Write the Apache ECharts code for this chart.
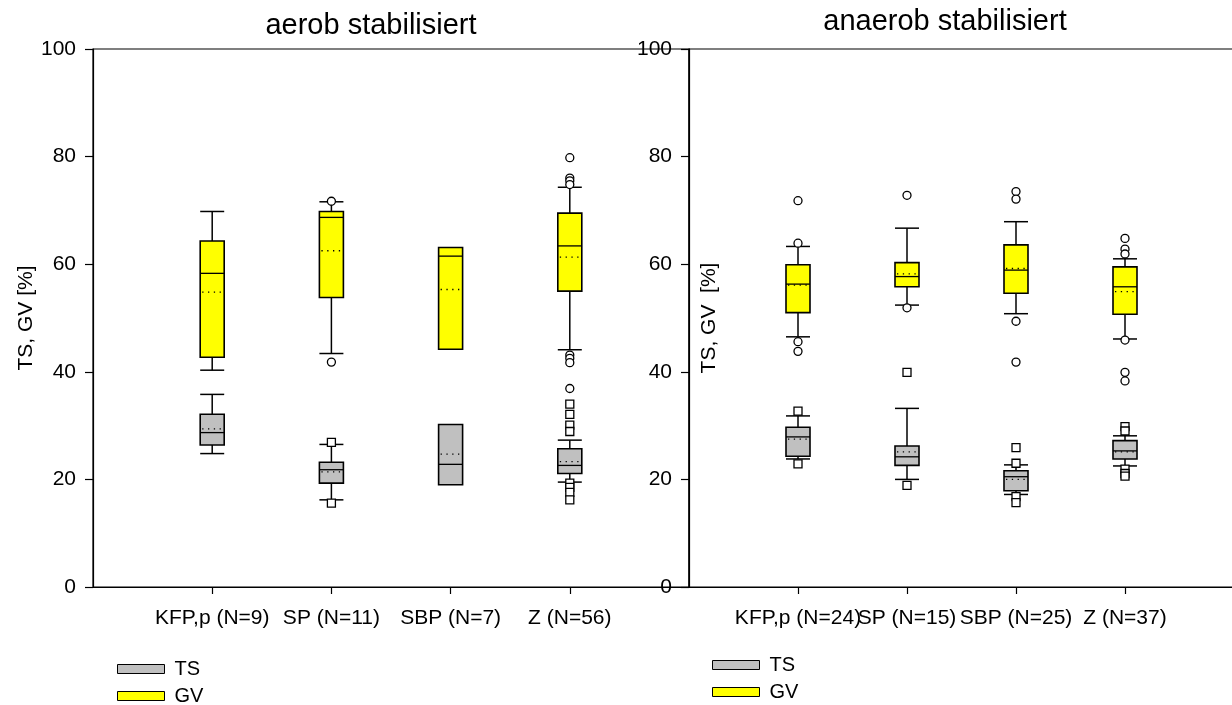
<!DOCTYPE html>
<html>
<head>
<meta charset="utf-8">
<script src="https://cdn.jsdelivr.net/npm/echarts@6/dist/echarts.min.js"></script>
<style>
  html, body { margin: 0; padding: 0; background: #fff; }
  #main { width: 1232px; height: 705px; }
</style>
</head>
<body>
<div id="main"></div>
<script>
// aerob stabilisiert
const aerobCats = ['KFP,p (N=9)', 'SP (N=11)', 'SBP (N=7)', 'Z (N=56)']
// [whisker low, q1, median, q3, whisker high]; null = no whisker
const aerobTsBox = [
  [24.8, 26.4, 28.7, 32.1, 35.8],
  [16.2, 19.3, 21.8, 23.2, 26.5],
  [null, 19.0, 22.8, 30.2, null],
  [19.5, 21.1, 22.6, 25.7, 27.3]
]
const aerobTsMean = [29.4, 21.4, 24.7, 23.3]
const aerobTsOut = [
  [2, 26.9], [2, 15.6],
  [4, 34.0], [4, 32.1], [4, 30.1], [4, 28.9], [4, 19.3], [4, 18.5], [4, 17.6], [4, 16.2]
]
const aerobGvBox = [
  [40.3, 42.7, 58.3, 64.3, 69.8],
  [43.4, 53.8, 68.7, 69.8, 71.6],
  [null, 44.2, 61.5, 63.1, null],
  [44.1, 55.0, 63.4, 69.5, 74.3]
]
const aerobGvMean = [54.8, 62.5, 55.3, 61.3]
const aerobGvOut = [
  [2, 71.7], [2, 41.8],
  [4, 79.8], [4, 76.0], [4, 75.5], [4, 74.8], [4, 43.1], [4, 42.5], [4, 41.7], [4, 36.9]
]

// anaerob stabilisiert
const anaerobCats = ['KFP,p (N=24)', 'SP (N=15)', 'SBP (N=25)', 'Z (N=37)']
const anaerobTsBox = [
  [23.8, 24.3, 27.9, 29.7, 31.8],
  [20.0, 22.6, 24.2, 26.2, 33.2],
  [17.2, 17.9, 20.5, 21.6, 22.7],
  [22.5, 23.8, 25.3, 27.2, 28.1]
]
const anaerobTsMean = [27.5, 25.1, 20.0, 25.1]
const anaerobTsOut = [
  [1, 32.7], [1, 22.9],
  [2, 39.9], [2, 18.9],
  [3, 25.9], [3, 23.0], [3, 16.8], [3, 15.7],
  [4, 29.8], [4, 29.0], [4, 21.9], [4, 21.1], [4, 20.6]
]
const anaerobGvBox = [
  [46.5, 51.0, 56.3, 59.9, 63.3],
  [52.4, 55.8, 57.7, 60.3, 66.7],
  [50.8, 54.6, 58.9, 63.6, 67.9],
  [46.1, 50.7, 55.8, 59.5, 61.0]
]
const anaerobGvMean = [56.1, 58.2, 59.2, 54.9]
const anaerobGvOut = [
  [1, 71.8], [1, 63.9], [1, 45.6], [1, 43.8],
  [2, 72.8], [2, 51.9],
  [3, 73.5], [3, 72.1], [3, 49.4], [3, 41.8],
  [4, 64.8], [4, 62.8], [4, 61.9], [4, 45.9], [4, 39.9], [4, 38.3]
]

const yTicks = [0, 20, 40, 60, 80, 100]

const FONT = 'Liberation Sans, Arial, sans-serif'
const TS_COLOR = '#c0c0c0'
const GV_COLOR = '#ffff00'
const HALF = 12

function boxRenderer(boxes, means, color) {
  return function (params, api) {
    const i = params.dataIndex
    const x = i + 1
    const [lo, q1, med, q3, hi] = boxes[i]
    const cx = api.coord([x, q1])[0]
    const y = (v) => api.coord([x, v])[1]
    const line = (x1, y1, x2, y2, extra) => ({
      type: 'line',
      shape: { x1, y1, x2, y2 },
      style: Object.assign({ stroke: '#000', lineWidth: 1.5 }, extra || {})
    })
    const children = []
    if (hi != null) {
      children.push(line(cx, y(q3), cx, y(hi)))
      children.push(line(cx - HALF, y(hi), cx + HALF, y(hi)))
    }
    if (lo != null) {
      children.push(line(cx, y(q1), cx, y(lo)))
      children.push(line(cx - HALF, y(lo), cx + HALF, y(lo)))
    }
    children.push({
      type: 'rect',
      shape: { x: cx - HALF, y: y(q3), width: HALF * 2, height: y(q1) - y(q3) },
      style: { fill: color, stroke: '#000', lineWidth: 1.6 }
    })
    children.push(line(cx - HALF, y(med), cx + HALF, y(med), { lineWidth: 1.3 }))
    children.push(line(cx - HALF + 2, y(means[i]), cx + HALF - 2, y(means[i]), { lineWidth: 1.3, lineDash: [1.3, 4.5] }))
    return { type: 'group', children }
  }
}

function boxSeries(name, idx, cats, boxes, means, color) {
  return {
    name,
    type: 'custom',
    xAxisIndex: idx,
    yAxisIndex: idx,
    color,
    itemStyle: { color },
    renderItem: boxRenderer(boxes, means, color),
    data: cats.map((c, i) => [i + 1, boxes[i][2]]),
    z: 2
  }
}

function outSeries(name, idx, data, symbol) {
  return {
    name,
    type: 'scatter',
    xAxisIndex: idx,
    yAxisIndex: idx,
    symbol,
    symbolSize: 8,
    itemStyle: { color: '#fff', borderColor: '#000', borderWidth: 1.3, opacity: 1 },
    data,
    z: 3
  }
}

function xAxis(idx, cats) {
  const full = [''].concat(cats, [''])
  return {
    type: 'category',
    gridIndex: idx,
    data: full,
    boundaryGap: false,
    axisLine: { show: true, lineStyle: { color: '#000', width: 1.2 } },
    axisTick: {
      show: true,
      length: 7,
      interval: (i) => i >= 1 && i <= cats.length,
      lineStyle: { color: '#000', width: 1.2 }
    },
    axisLabel: { interval: 0, hideOverlap: false, margin: 21, fontSize: 21, color: '#000', fontFamily: FONT },
    splitLine: { show: false }
  }
}

function yAxis(idx, name, gap) {
  return {
    type: 'value',
    gridIndex: idx,
    min: yTicks[0],
    max: yTicks[yTicks.length - 1],
    interval: yTicks[1] - yTicks[0],
    name,
    nameLocation: 'middle',
    nameGap: gap,
    nameTextStyle: { fontSize: 21, color: '#000', fontFamily: FONT },
    axisLine: { show: true, lineStyle: { color: '#000', width: 1.2 } },
    axisTick: { show: true, length: 8, lineStyle: { color: '#000', width: 1.2 } },
    axisLabel: { margin: 17, fontSize: 21, color: '#000', fontFamily: FONT },
    splitLine: { show: false }
  }
}

// one legend entry per component so each sits exactly where the reference has it
function legendItem(name, left, centerY) {
  return {
    data: [name],
    left,
    top: centerY - 12,
    padding: 0,
    icon: 'rect',
    itemWidth: 47,
    itemHeight: 9,
    selectedMode: false,
    itemStyle: { borderColor: '#000', borderWidth: 1 },
    textStyle: { fontSize: 20, lineHeight: 24, color: '#000', fontFamily: FONT, padding: [0, 0, 0, 5] }
  }
}

const chart = echarts.init(document.getElementById('main'))
chart.setOption({
  animation: false,
  backgroundColor: '#fff',
  graphic: [
    { type: 'text', x: 371, y: 26, style: { text: 'aerob stabilisiert', font: '29px ' + FONT, fill: '#000', textAlign: 'center', textVerticalAlign: 'middle' } },
    { type: 'text', x: 945, y: 22, style: { text: 'anaerob stabilisiert', font: '29px ' + FONT, fill: '#000', textAlign: 'center', textVerticalAlign: 'middle' } }
  ],
  legend: [
    legendItem('TS', 117, 669),
    legendItem('GV', 117, 696),
    legendItem('TS', 712, 665),
    legendItem('GV', 712, 692)
  ],
  grid: [
    { left: 93, top: 49, width: 596, height: 538, outerBoundsMode: 'none', show: true, borderColor: '#000', borderWidth: 1.2, backgroundColor: 'transparent' },
    { left: 689, top: 49, width: 545, height: 538, outerBoundsMode: 'none', show: true, borderColor: '#000', borderWidth: 1.2, backgroundColor: 'transparent' }
  ],
  xAxis: [xAxis(0, aerobCats), xAxis(1, anaerobCats)],
  yAxis: [yAxis(0, 'TS, GV [%]', 54), yAxis(1, 'TS, GV  [%]', -31)],
  series: [
    boxSeries('TS', 0, aerobCats, aerobTsBox, aerobTsMean, TS_COLOR),
    boxSeries('GV', 0, aerobCats, aerobGvBox, aerobGvMean, GV_COLOR),
    boxSeries('TS', 1, anaerobCats, anaerobTsBox, anaerobTsMean, TS_COLOR),
    boxSeries('GV', 1, anaerobCats, anaerobGvBox, anaerobGvMean, GV_COLOR),
    outSeries('TS Ausreißer aerob', 0, aerobTsOut, 'rect'),
    outSeries('GV Ausreißer aerob', 0, aerobGvOut, 'circle'),
    outSeries('TS Ausreißer anaerob', 1, anaerobTsOut, 'rect'),
    outSeries('GV Ausreißer anaerob', 1, anaerobGvOut, 'circle')
  ]
})
</script>
</body>
</html>
